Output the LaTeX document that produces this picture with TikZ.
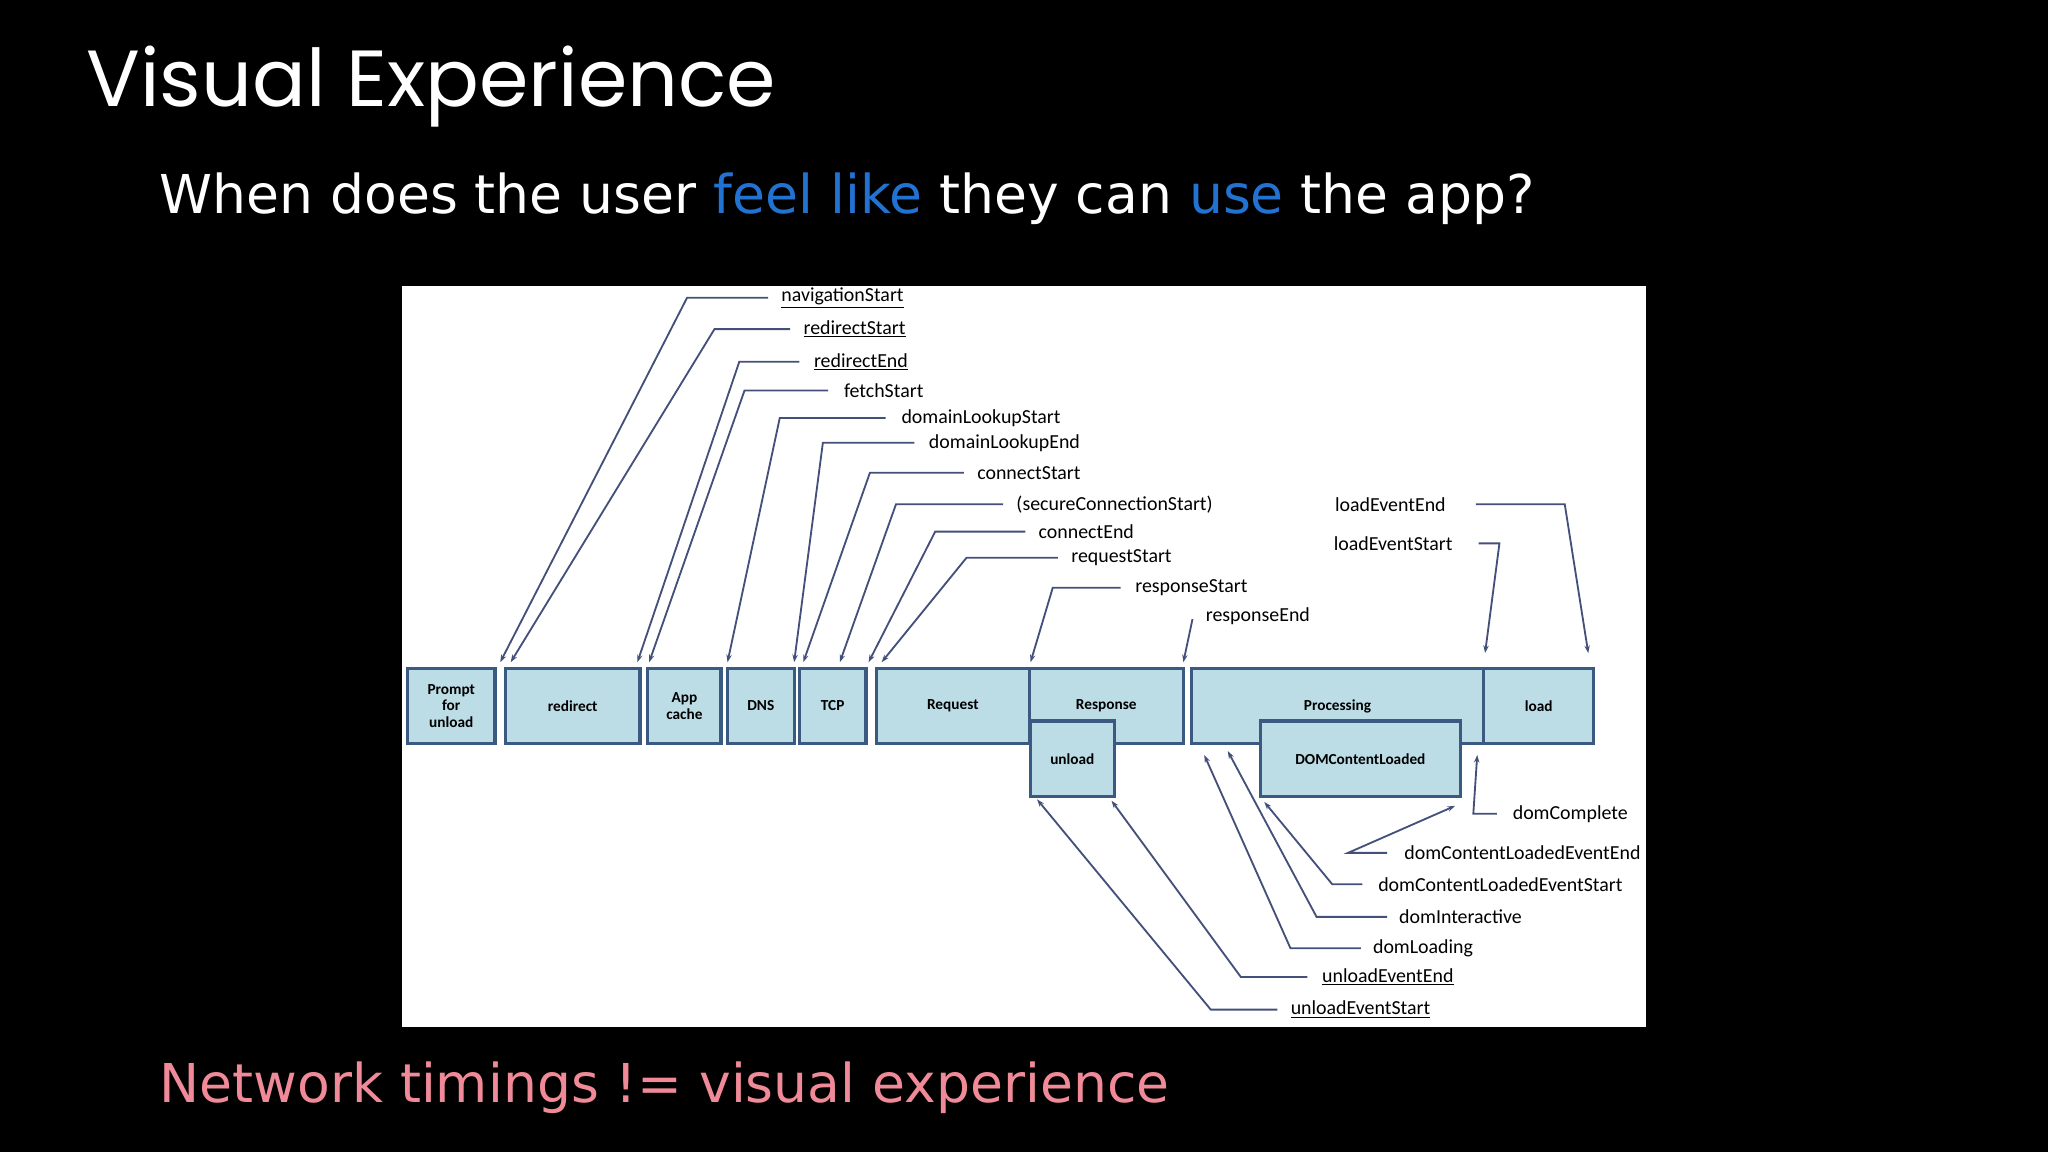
\documentclass[tikz,border=0pt]{standalone}
\usepackage{fontspec}
\setmainfont{DejaVu Sans}
\newfontfamily\titlefont{Poppins}
\newfontfamily\lblfont{Carlito}
\usetikzlibrary{arrows.meta}
\definecolor{boxfill}{HTML}{BCDDE6}
\definecolor{boxline}{HTML}{3B5A82}
\definecolor{leadline}{HTML}{44507A}
\definecolor{hiblue}{HTML}{2272D2}
\definecolor{pinktxt}{HTML}{F08A98}
\begin{document}
\begin{tikzpicture}[x=0.03cm,y=-0.03cm,
  phase/.style={draw=boxline,fill=boxfill,line width=2pt,inner sep=0pt,
    font=\lblfont\bfseries\fontsize{10}{11}\selectfont,align=center},
  lbl/.style={anchor=west,inner sep=0pt,text=black,font=\lblfont\fontsize{13}{14}\selectfont},
  lead/.style={draw=leadline,line width=1.2pt,-{Stealth[length=5pt,width=3.5pt]}}]
\fill[black] (0,0) rectangle (1568,882);
\useasboundingbox (0,0) rectangle (1568,882);
\node[anchor=west,text=white,font=\titlefont\fontsize{52}{56}\selectfont] (title) at (62,66) {Visual Experience};
\node[anchor=west,text=white,font=\fontsize{35}{40}\selectfont] (sub) at (118,152)
  {When does the user \textcolor{hiblue}{feel like} they can \textcolor{hiblue}{use} the app?};
\node[anchor=west,text=pinktxt,font=\fontsize{35}{40}\selectfont] (foot) at (118,833)
  {Network timings != visual experience};
\fill[white] (308,219) rectangle (1260,786);
% phases
\foreach \n/\xa/\xb/\t in {prompt/312/379/{Prompt\\for\\unload},redir/387/490/redirect,
  appc/496/552/{App\\cache},dns/557/608/DNS,tcp/612/663/TCP,req/671/788/Request,
  resp/788/906/Response,proc/912/1136/Processing,load/1136/1220/load}
  \node[phase,minimum width={(\xb-\xa)*0.03cm},minimum height=1.71cm] (\n) at ({(\xa+\xb)/2},540.5) {\t};
\node[phase,minimum width=1.92cm,minimum height=1.74cm] (unl) at (821,581) {unload};
\node[phase,minimum width=4.59cm,minimum height=1.74cm] (dcl) at (1041.5,581) {DOMContentLoaded};
% labels: name/text/text x/y/line start/bend x/tip x/tip y
\foreach \n/\t/\tx/\ty/\sx/\bx/\ax/\ay in {
  nav/\underline{navigationStart}/598/228/588/526/383/507,
  rds/\underline{redirectStart}/615/252/605/547/391/507,
  rde/\underline{redirectEnd}/623/277/612/566/488/507,
  fts/fetchStart/646/299/634/570/497/507,
  dls/domainLookupStart/690/320/678/597/557/507,
  dle/domainLookupEnd/711/339/700/630/608/507,
  cns/connectStart/748/362/738/666/615/507,
  scs/(secureConnectionStart)/778/386/768/686/643/507,
  cne/connectEnd/795/407/785/716/665/507,
  rqs/requestStart/820/427/810/740/675/507,
  rss/responseStart/869/450/858/806/789/507,
  lee/loadEventEnd/1022/386/1130/1198/1216/500,
  les/loadEventStart/1021/416/1132/1148/1137/500,
  dcm/domComplete/1158/623/1146/1128/1131/578,
  dce/domContentLoadedEventEnd/1075/653/1062/1032/1114/617,
  dcs/domContentLoadedEventStart/1055/677/1043/1020/968/614,
  din/domInteractive/1071/702/1062/1008/940/575,
  dlo/domLoading/1051/726/1042/988/922/578,
  uee/\underline{unloadEventEnd}/1012/748/1001/950/851/613,
  ues/\underline{unloadEventStart}/988/773/978/927/794/612}{
  \node[lbl] (\n) at (\tx,\ty) {\t};
  \coordinate (\n-tip) at (\ax,\ay);
  \draw[lead] (\sx,\ty) -- (\bx,\ty) -- (\n-tip);
}
\node[lbl] (rse) at (923,472) {responseEnd};
\coordinate (rse-tip) at (906,507);
\draw[lead] (913,474) -- (rse-tip);
\end{tikzpicture}
\end{document}
